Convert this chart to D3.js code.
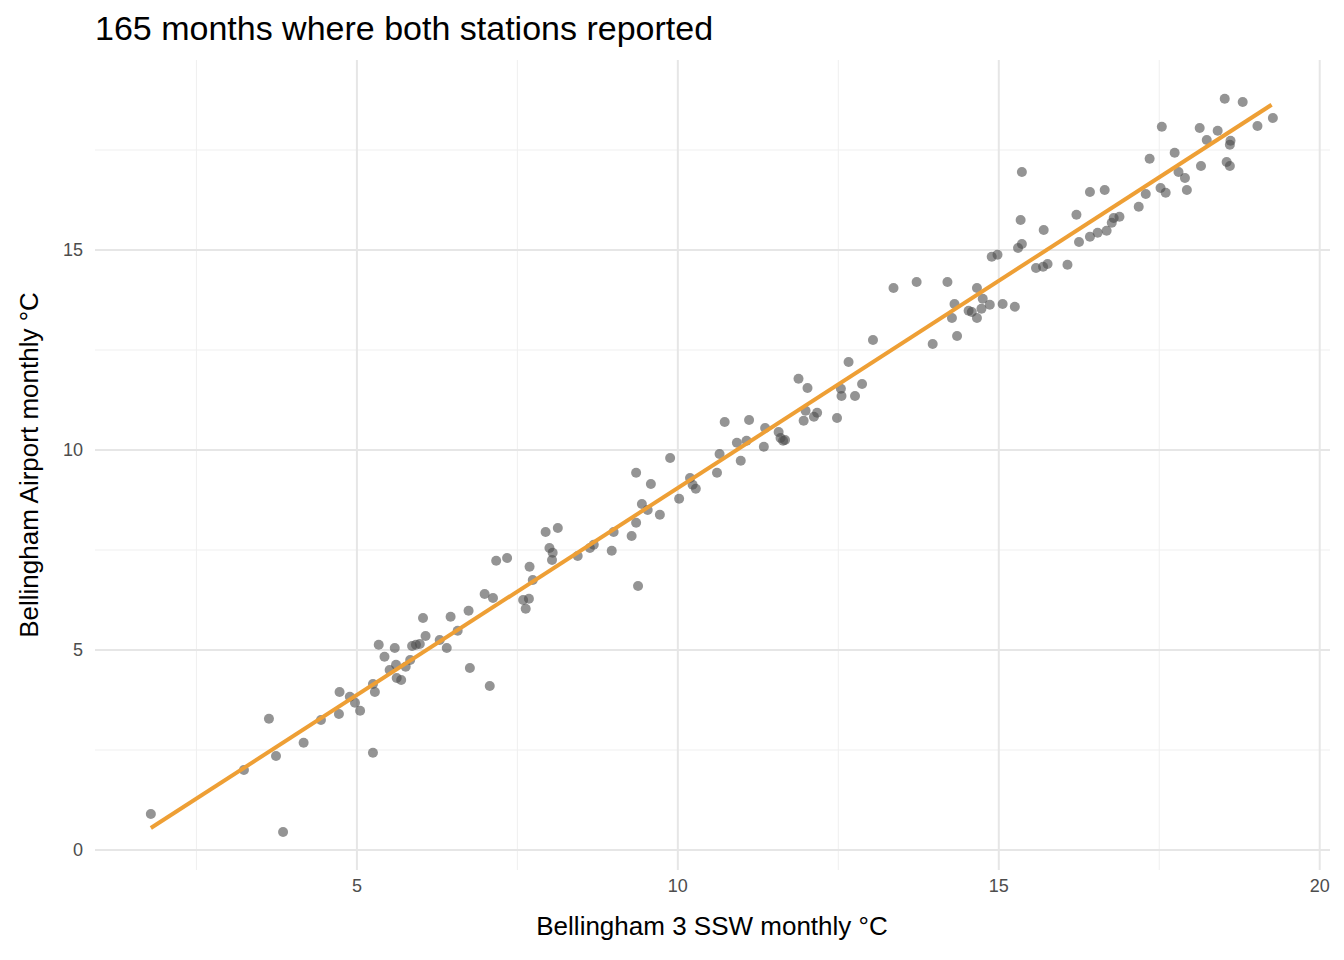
<!DOCTYPE html>
<html><head><meta charset="utf-8">
<script src="https://cdn.jsdelivr.net/npm/d3@7"></script>
<style>body{margin:0;background:#fff}svg{font-family:"Liberation Sans",Arial,sans-serif}</style>
</head><body><svg></svg>
<script>
// Bellingham 3 SSW (x) vs Bellingham Airport (y), monthly °C
let xs = [1.79,3.24,3.63,3.74,3.85,4.17,4.44,4.72,4.73,4.89,4.97,5.05,5.25,5.28,5.25,5.34,5.43,5.51,5.59,5.61,5.62,5.69,5.76,5.83,5.86,5.92,5.98,6.03,6.07,6.29,6.4,6.46,6.57,6.74,6.76,6.99,7.07,7.12,7.17,7.34,7.59,7.63,7.68,7.69,7.74,7.94,8.0,8.05,8.04,8.13,8.44,8.63,8.69,8.97,9.0,9.28,9.35,9.35,9.38,9.44,9.53,9.58,9.72,9.88,10.02,10.19,10.23,10.28,10.61,10.65,10.73,10.92,10.98,11.07,11.11,11.34,11.36,11.57,11.6,11.64,11.67,11.88,11.96,11.99,12.02,12.12,12.17,12.48,12.54,12.55,12.66,12.76,12.87,13.04,13.36,13.72,13.97,14.2,14.27,14.31,14.35,14.53,14.58,14.66,14.66,14.73,14.75,14.86,14.89,14.98,15.06,15.25,15.3,15.34,15.36,15.36,15.58,15.69,15.7,15.76,16.07,16.21,16.25,16.42,16.42,16.54,16.65,16.68,16.76,16.79,16.88,17.18,17.29,17.35,17.52,17.54,17.6,17.74,17.8,17.9,17.93,18.13,18.15,18.24,18.41,18.52,18.55,18.6,18.6,18.61,18.8,19.03,19.27]
let ys = [0.9,2.0,3.28,2.35,0.45,2.68,3.25,3.4,3.95,3.83,3.68,3.48,4.15,3.95,2.43,5.13,4.83,4.5,5.05,4.63,4.3,4.25,4.58,4.75,5.1,5.13,5.15,5.8,5.35,5.25,5.05,5.83,5.48,5.98,4.55,6.4,4.1,6.3,7.23,7.3,6.25,6.03,6.28,7.08,6.75,7.95,7.55,7.43,7.25,8.05,7.35,7.55,7.63,7.48,7.95,7.85,8.18,9.43,6.6,8.65,8.5,9.15,8.38,9.8,8.78,9.3,9.13,9.03,9.43,9.9,10.7,10.18,9.73,10.23,10.75,10.08,10.55,10.45,10.3,10.23,10.25,11.78,10.73,10.98,11.55,10.83,10.93,10.8,11.53,11.35,12.2,11.35,11.65,12.75,14.05,14.2,12.65,14.2,13.3,13.65,12.85,13.48,13.45,13.3,14.05,13.53,13.78,13.63,14.83,14.88,13.65,13.58,15.05,15.75,15.15,16.95,14.55,14.58,15.5,14.65,14.63,15.88,15.2,15.33,16.45,15.43,16.5,15.48,15.68,15.8,15.83,16.08,16.4,17.28,16.55,18.08,16.43,17.43,16.95,16.8,16.5,18.05,17.1,17.75,17.98,18.78,17.2,17.1,17.63,17.73,18.7,18.1,18.3]
let fitX = [1.79, 19.25]
let fitY = [0.55, 18.63]
let xTicks = [5, 10, 15, 20]
let yTicks = [0, 5, 10, 15]
let xMinor = [2.5, 7.5, 12.5, 17.5]
let yMinor = [2.5, 7.5, 12.5, 17.5]

let width = 1344, height = 960
let svg = d3.select('svg').attr('width', width).attr('height', height)

let xScale = d3.scaleLinear().domain([0.92, 20.16]).range([95, 1330])
let yScale = d3.scaleLinear().domain([-0.5, 19.75]).range([870, 60])

let grid = svg.append('g')
grid.selectAll('line.xmin').data(xMinor).enter().append('line')
    .attr('x1', d => xScale(d)).attr('x2', d => xScale(d)).attr('y1', 60).attr('y2', 870)
    .attr('stroke', '#efefef').attr('stroke-width', 1)
grid.selectAll('line.ymin').data(yMinor).enter().append('line')
    .attr('y1', d => yScale(d)).attr('y2', d => yScale(d)).attr('x1', 95).attr('x2', 1330)
    .attr('stroke', '#efefef').attr('stroke-width', 1)
grid.selectAll('line.xmaj').data(xTicks).enter().append('line')
    .attr('x1', d => xScale(d)).attr('x2', d => xScale(d)).attr('y1', 60).attr('y2', 870)
    .attr('stroke', '#e6e6e6').attr('stroke-width', 2)
grid.selectAll('line.ymaj').data(yTicks).enter().append('line')
    .attr('y1', d => yScale(d)).attr('y2', d => yScale(d)).attr('x1', 95).attr('x2', 1330)
    .attr('stroke', '#e6e6e6').attr('stroke-width', 2)

svg.append('g').selectAll('text').data(xTicks).enter().append('text')
    .attr('x', d => xScale(d)).attr('y', 892).attr('text-anchor', 'middle')
    .style('font-size', '18px').attr('fill', '#4d4d4d').text(d => d)
svg.append('g').selectAll('text').data(yTicks).enter().append('text')
    .attr('x', 83).attr('y', d => yScale(d) + 6).attr('text-anchor', 'end')
    .style('font-size', '18px').attr('fill', '#4d4d4d').text(d => d)

svg.append('g').selectAll('circle').data(xs).enter().append('circle')
    .attr('cx', d => xScale(d)).attr('cy', (d, i) => yScale(ys[i])).attr('r', 5)
    .attr('fill', '#4d4d4d').attr('fill-opacity', 0.6)

svg.append('line')
    .attr('x1', xScale(fitX[0])).attr('y1', yScale(fitY[0]))
    .attr('x2', xScale(fitX[1])).attr('y2', yScale(fitY[1]))
    .attr('stroke', '#EE9F35').attr('stroke-width', 4)

svg.append('text').attr('x', 95).attr('y', 40).style('font-size', '34px')
    .attr('fill', '#000').text('165 months where both stations reported')
svg.append('text').attr('x', 712).attr('y', 935).attr('text-anchor', 'middle')
    .style('font-size', '26px').text('Bellingham 3 SSW monthly °C')
svg.append('text').attr('transform', 'translate(38,465) rotate(-90)').attr('text-anchor', 'middle')
    .style('font-size', '26px').text('Bellingham Airport monthly °C')
</script></body></html>
